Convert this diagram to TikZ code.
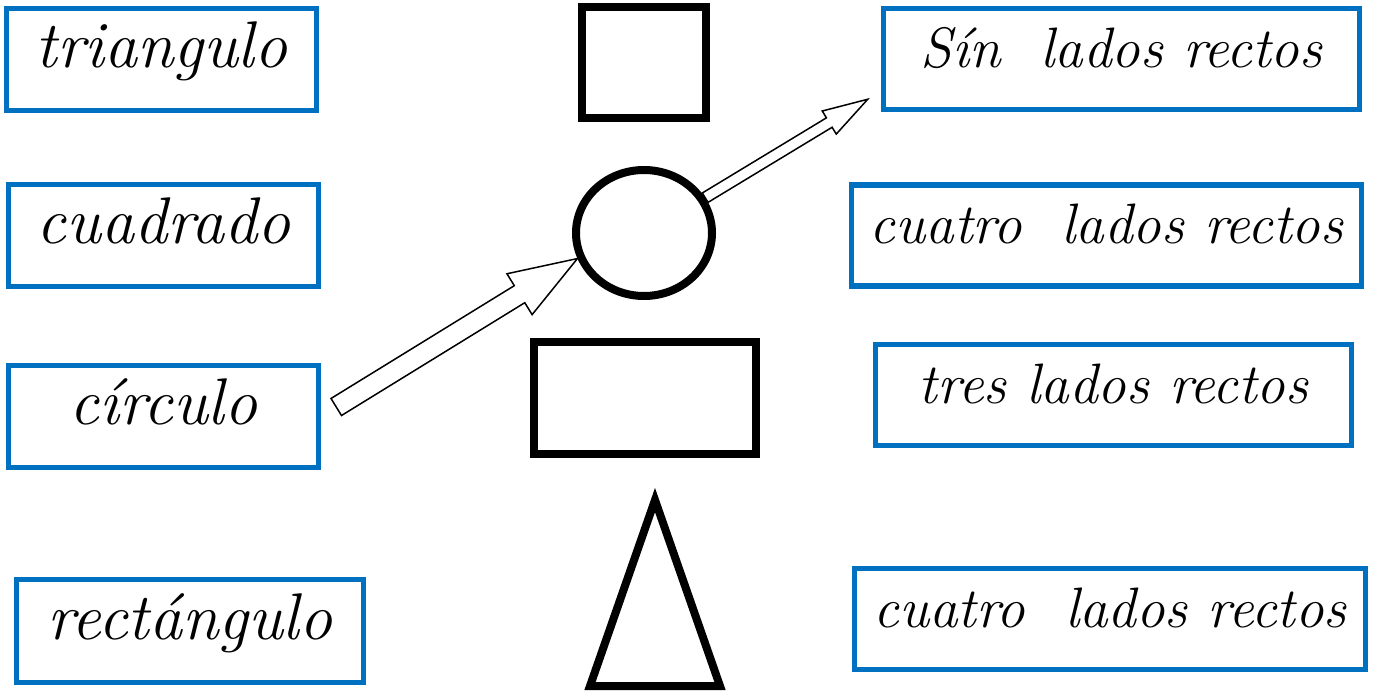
\documentclass[tikz,border=0pt]{standalone}
\usetikzlibrary{calc,shapes.geometric}
\definecolor{cardblue}{HTML}{0070C0}
\tikzstyle{card}=[draw=cardblue, line width=5.5pt, inner sep=0pt, text height=36pt, text depth=20pt]
\tikzstyle{leftcard}=[card, minimum width=310pt, minimum height=102pt, font=\fontsize{66}{74}\selectfont\itshape]
\tikzstyle{rightcard}=[card, minimum height=101pt, font=\fontsize{57}{64}\selectfont\itshape]
\tikzstyle{figure}=[draw=black, line width=8pt, inner sep=0pt]
\tikzstyle{arrowline}=[draw=black, fill=white, line width=1.5pt, line join=miter]
\newcommand{\hollowarrow}[5]{%
	\path ($(#2)!#5!(#1)$) coordinate (head);
	\draw [arrowline] ($(#1)!#3!90:(#2)$) -- ($(head)!#3!-90:(#1)$) -- ($(head)!#4!-90:(#1)$) -- (#2)
		-- ($(head)!#4!90:(#1)$) -- ($(head)!#3!90:(#1)$) -- ($(#1)!#3!-90:(#2)$) -- cycle;
}
\begin{document}
\begin{tikzpicture}[x=1pt,y=-1pt]
	\useasboundingbox (0,0) rectangle (1374,693);
	\node [leftcard] (triangulo) at (161.5,59.5) {triangulo};
	\node [leftcard] (cuadrado) at (163.5,235.5) {cuadrado};
	\node [leftcard] (circulo) at (163.5,416.5) {círculo};
	\node [leftcard, minimum width=347pt, minimum height=103pt] (rectangulo) at (190,631) {rectángulo};
	\node [rightcard, minimum width=476pt] (sin) at (1121.5,59) {Sín\ \ lados rectos};
	\node [rightcard, minimum width=510pt] (cuatroa) at (1106.5,235.5) {cuatro\ \ lados rectos};
	\node [rightcard, minimum width=476pt] (tres) at (1113.5,395) {tres lados rectos};
	\node [rightcard, minimum width=511pt] (cuatrob) at (1110,619) {cuatro\ \ lados rectos};
	\node [figure, minimum width=124pt, minimum height=111pt] (cuadro) at (644,62.5) {};
	\node [figure, ellipse, minimum width=136pt, minimum height=126pt] (circ) at (644,233) {};
	\node [figure, minimum width=222pt, minimum height=112pt] (rect) at (645,398) {};
	\draw [figure, line join=miter] (655,500) -- (720,686) -- (590,686) -- cycle;
	\coordinate (tailone) at ($(circulo.east)+(15,-9.5)$);
	\hollowarrow{tailone}{circ.201}{10pt}{24pt}{68pt}
	\coordinate (tiptwo) at ($(sin.south west)+(-13,-13)$);
	\hollowarrow{circ.30}{tiptwo}{5.5pt}{13.5pt}{45pt}
\end{tikzpicture}
\end{document}
